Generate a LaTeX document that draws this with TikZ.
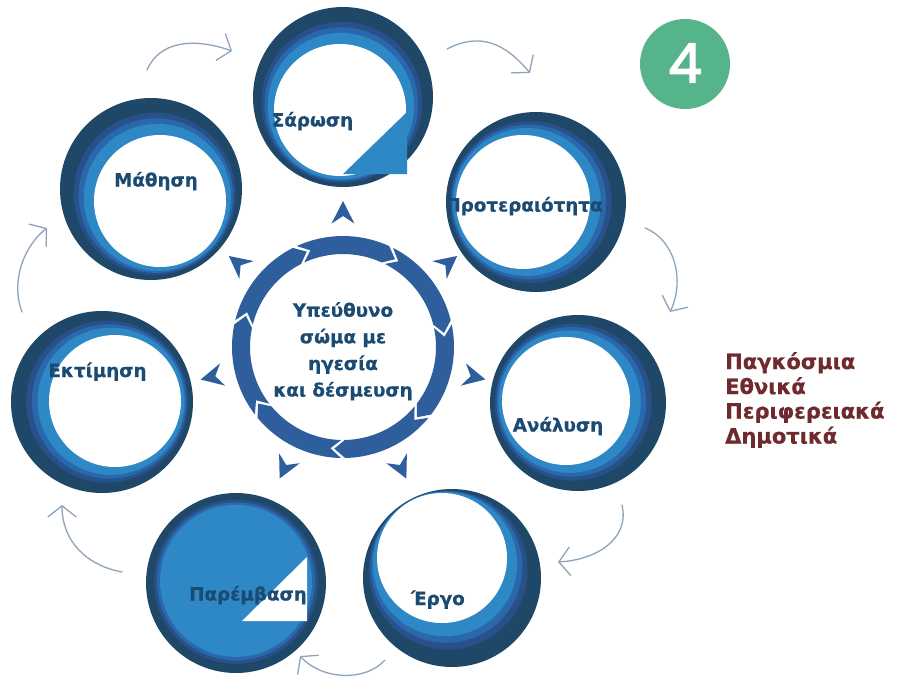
\documentclass[tikz,border=0pt]{standalone}
\usepackage{fontspec}
\setmainfont{DejaVu Sans}
\newfontfamily\heavy{DejaVu Sans}[BoldFeatures={FakeBold=0.6}]
\newfontfamily\badgefont{Poppins}[FakeBold=2.5]
\usetikzlibrary{arrows.meta}
\definecolor{cdark}{HTML}{1F4868}
\definecolor{cmid}{HTML}{28508A}
\definecolor{cblue}{HTML}{2A68AC}
\definecolor{clight}{HTML}{2E88C6}
\definecolor{labelc}{HTML}{1B4A73}
\definecolor{ringc}{HTML}{2E5F9C}
\definecolor{greyarrow}{HTML}{8FA3B9}
\definecolor{badgec}{HTML}{55B48A}
\definecolor{levelc}{HTML}{6E2A2C}
\tikzset{
  lbl/.style={font=\heavy\bfseries\fontsize{18.3}{22}\selectfont, text=labelc, anchor=base, inner sep=0pt},
  ctr/.style={font=\heavy\bfseries\fontsize{18.3}{22}\selectfont, text=labelc, anchor=base, inner sep=0pt},
  lvl/.style={font=\heavy\bfseries\fontsize{21}{25}\selectfont, text=levelc, anchor=base west, inner sep=0pt},
  flow/.style={draw=greyarrow, line width=1.3pt, line cap=round,
    -{Straight Barb[length=11pt,width=28pt,line cap=round]}},
  ringseg/.style={fill=ringc},
  pointer/.style={fill=ringc},
}
% name, cx, cy, R, dx, dy, r, inner colour
\newcommand\bandcircle[8]{%
  \node[circle, fill=cdark, inner sep=0pt, minimum size={2*#4pt}] (#1) at (#2,#3) {};
  \fill[cmid] ({#2+0.4*#5},{#3+0.4*#6}) circle[radius={#4-0.4*(#4-#7)}];
  \fill[cblue] ({#2+0.55*#5},{#3+0.55*#6}) circle[radius={#4-0.55*(#4-#7)}];
  \fill[clight] ({#2+0.7*#5},{#3+0.7*#6}) circle[radius={#4-0.7*(#4-#7)}];
  \fill[#8] ({#2+#5},{#3+#6}) circle[radius=#7];
}
\begin{document}
\begin{tikzpicture}[x=1pt,y=-1pt]
\useasboundingbox (0,0) rectangle (912,680);
\fill[white] (0,0) rectangle (912,680);

% circles
\bandcircle{sar}{343}{97}{90}{-3}{13}{66}{white}
\bandcircle{pro}{536}{202}{90}{-13}{0}{67}{white}
\bandcircle{ana}{578}{403}{88}{-12}{-2}{64}{white}
\bandcircle{erg}{452}{578}{89}{-10}{-20}{65}{white}
\bandcircle{par}{236}{583}{90}{0}{-3}{70}{clight}
\bandcircle{ekt}{102}{402}{91}{13}{-1}{66}{white}
\bandcircle{mat}{151}{189}{91}{9}{12}{66}{white}

% wedges
\fill[clight] (407,112) -- (407,174) -- (343,174) -- cycle;
\fill[white] (307,557) -- (307,621) -- (242,621) -- cycle;

% labels
\node[lbl] (lsar) at (312.5,126.5) {Σάρωση};
\node[lbl] (lpro) at (524,211.5) {Προτεραιότητα};
\node[lbl] (lana) at (558,431.5) {Ανάλυση};
\node[lbl] (lerg) at (438,605) {Έργο};
\node[lbl] (lpar) at (248,600.5) {Παρέμβαση};
\node[lbl] (lekt) at (97.5,377) {Εκτίμηση};
\node[lbl] (lmat) at (156,186.5) {Μάθηση};

% central ring
\coordinate (cen) at (343,347);
\foreach \i in {0,...,6}{
  \pgfmathsetmacro\sa{-115.714+\i*51.4286+1.1}
  \pgfmathsetmacro\sb{-115.714+(\i+1)*51.4286-1.1}
  \pgfmathsetmacro\ta{\sa+6}
  \pgfmathsetmacro\tb{\sb+6}
  \fill[ringseg] ([shift={(cen)}]\sa:111) arc[start angle=\sa, end angle=\sb, radius=111]
    -- ([shift={(cen)}]\tb:102) -- ([shift={(cen)}]\sb:93)
    arc[start angle=\sb, end angle=\sa, radius=93]
    -- ([shift={(cen)}]\ta:102) -- cycle;
}
\foreach \k in {0,...,6}{
  \pgfmathsetmacro\pa{-90+\k*51.4286}
  \pgfmathsetmacro\pl{\pa+5.3}
  \pgfmathsetmacro\pr{\pa-5.3}
  \fill[pointer] ([shift={(cen)}]\pa:146) -- ([shift={(cen)}]\pl:124)
    -- ([shift={(cen)}]\pa:131) -- ([shift={(cen)}]\pr:124) -- cycle;
}
\node[ctr] (c1) at (343,316.7) {Υπεύθυνο};
\node[ctr] (c2) at (343,343.3) {σώμα με};
\node[ctr] (c3) at (343,370) {ηγεσία};
\node[ctr] (c4) at (343,396.5) {και δέσμευση};

% grey flow arrows
\coordinate (a1s) at (147,70);   \coordinate (a1e) at (232,51);
\coordinate (a2s) at (447,49);   \coordinate (a2e) at (530,73);
\coordinate (a3s) at (645,228);  \coordinate (a3e) at (670,312);
\coordinate (a4s) at (622,505);  \coordinate (a4e) at (558,562);
\coordinate (a5s) at (385,660);  \coordinate (a5e) at (300,656);
\coordinate (a6s) at (122,572);  \coordinate (a6e) at (62,505);
\coordinate (a7s) at (22,312);   \coordinate (a7e) at (47,228);
\draw[flow] (a1s) .. controls (160,40) and (195,38) .. (a1e);
\draw[flow] (a2s) .. controls (480,32) and (505,43) .. (a2e);
\draw[flow] (a3s) .. controls (675,240) and (685,280) .. (a3e);
\draw[flow] (a4s) .. controls (630,540) and (595,560) .. (a4e);
\draw[flow] (a5s) .. controls (365,682) and (322,680) .. (a5e);
\draw[flow] (a6s) .. controls (85,565) and (62,540) .. (a6e);
\draw[flow] (a7s) .. controls (10,280) and (25,245) .. (a7e);

% badge
\node[circle, fill=badgec, inner sep=0pt, minimum size=90pt] (badge) at (685,64) {};
\node[text=white, font=\badgefont\fontsize{54}{60}\selectfont, inner sep=0pt] (four) at (685,63) {4};

% levels
\node[lvl] (v1) at (725,369) {Παγκόσμια};
\node[lvl] (v2) at (725,394) {Εθνικά};
\node[lvl] (v3) at (725,418.5) {Περιφερειακά};
\node[lvl] (v4) at (725,443.5) {Δημοτικά};
\end{tikzpicture}
\end{document}
